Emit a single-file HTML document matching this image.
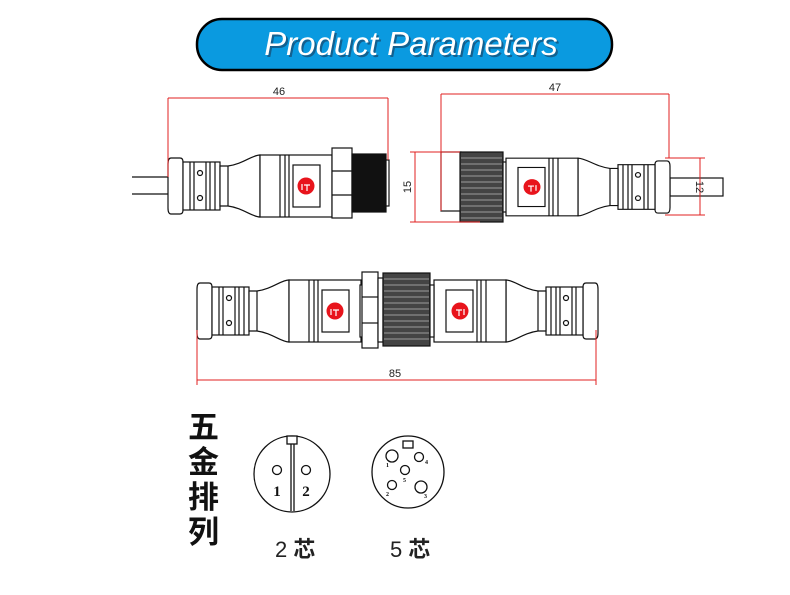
<!DOCTYPE html>
<html><head><meta charset="utf-8"><style>
html,body{margin:0;padding:0;background:#fff;width:790px;height:595px;overflow:hidden}
svg{display:block}
</style></head><body>
<svg width="790" height="595" viewBox="0 0 790 595" xmlns="http://www.w3.org/2000/svg">
<defs>
<g id="plug" stroke="#111" stroke-width="1.2" fill="#fff">
  <path d="M3,-28 L12,-28 Q15,-28 15,-24 L15,24 Q15,28 12,28 L3,28 Q0,28 0,22 L0,-22 Q0,-28 3,-28 Z"/>
  <rect x="15" y="-24" width="37" height="48"/>
  <line x1="22" y1="-24" x2="22" y2="24"/><line x1="26" y1="-24" x2="26" y2="24"/>
  <line x1="38" y1="-24" x2="38" y2="24"/><line x1="42" y1="-24" x2="42" y2="24"/><line x1="47" y1="-24" x2="47" y2="24"/>
  <circle cx="32" cy="-13" r="2.5"/><circle cx="32" cy="12" r="2.5"/>
  <path d="M52,-20 L60,-20 C75,-22 84,-31 92,-31 L92,31 C84,31 75,22 60,20 L52,20 Z"/>
  <line x1="60" y1="-20" x2="60" y2="20"/>
  <rect x="92" y="-31" width="72" height="62"/>
  <line x1="112" y1="-31" x2="112" y2="31"/><line x1="117" y1="-31" x2="117" y2="31"/><line x1="121" y1="-31" x2="121" y2="31"/>
  <rect x="125" y="-21" width="27" height="42"/>
  <circle cx="138" cy="0" r="8.5" fill="#e8141c" stroke="none"/>
  <path d="M134,-2 L134,4 M136,-1 L142,-1 M139,-1 L139,5" stroke="#fff" stroke-width="1.2" fill="none"/>
</g>
</defs>

<rect x="197" y="19" width="415" height="51" rx="25" fill="#0a9ae0" stroke="#000" stroke-width="2.5"/>
<text x="411" y="55" text-anchor="middle" font-family="Liberation Sans, sans-serif" font-style="italic" font-size="33" fill="#1a3a5a" opacity="0.6" transform="translate(2,2)">Product Parameters</text>
<text x="411" y="55" text-anchor="middle" font-family="Liberation Sans, sans-serif" font-style="italic" font-size="33" fill="#fff">Product Parameters</text>

<g stroke="#111" stroke-width="1.2" fill="none">
  <line x1="132" y1="177" x2="168" y2="177"/><line x1="132" y1="194" x2="168" y2="194"/>
</g>
<use href="#plug" transform="translate(168,186)"/>
<g stroke="#111" stroke-width="1.2">
  <rect x="332" y="148" width="20" height="70" fill="#fff"/>
  <line x1="332" y1="171" x2="352" y2="171"/><line x1="332" y1="195" x2="352" y2="195"/>
  <rect x="352" y="154" width="34" height="58" fill="#111"/>
  <rect x="386" y="160" width="3" height="46" fill="#fff"/>
</g>
<g stroke="#e02020" stroke-width="1" fill="none">
  <line x1="168" y1="98" x2="388" y2="98"/>
  <line x1="168" y1="98" x2="168" y2="177"/>
  <line x1="388" y1="98" x2="388" y2="160"/>
</g>
<text x="279" y="95" text-anchor="middle" font-family="Liberation Sans, sans-serif" font-size="11" fill="#222">46</text>

<g stroke="#111" stroke-width="1.2">
  <rect x="441" y="152" width="20" height="59" fill="#fff"/>
  <rect x="460" y="152" width="43" height="70" fill="#444"/>
  <g stroke="#bbb" stroke-width="0.8">
    <line x1="461" y1="158" x2="502" y2="158"/><line x1="461" y1="164" x2="502" y2="164"/><line x1="461" y1="170" x2="502" y2="170"/><line x1="461" y1="176" x2="502" y2="176"/><line x1="461" y1="182" x2="502" y2="182"/><line x1="461" y1="188" x2="502" y2="188"/><line x1="461" y1="194" x2="502" y2="194"/><line x1="461" y1="200" x2="502" y2="200"/><line x1="461" y1="206" x2="502" y2="206"/><line x1="461" y1="212" x2="502" y2="212"/><line x1="461" y1="218" x2="502" y2="218"/>
  </g>
  <rect x="503" y="162" width="5" height="50" fill="#fff"/>
  <rect x="670" y="178" width="53" height="18" fill="#fff"/>
</g>
<use href="#plug" transform="translate(670,187) scale(-1,0.93)"/>
<g stroke="#e02020" stroke-width="1" fill="none">
  <line x1="441" y1="94" x2="669" y2="94"/>
  <line x1="441" y1="94" x2="441" y2="211"/>
  <line x1="669" y1="94" x2="669" y2="158"/>
  <line x1="415" y1="152" x2="415" y2="222"/>
  <line x1="410" y1="152" x2="460" y2="152"/><line x1="410" y1="222" x2="480" y2="222"/>
  <line x1="700" y1="158" x2="700" y2="215"/>
  <line x1="665" y1="158" x2="705" y2="158"/><line x1="665" y1="215" x2="705" y2="215"/>
</g>
<text x="555" y="91" text-anchor="middle" font-family="Liberation Sans, sans-serif" font-size="11" fill="#222">47</text>
<text transform="translate(411,187) rotate(-90)" text-anchor="middle" font-family="Liberation Sans, sans-serif" font-size="11" fill="#222">15</text>
<text transform="translate(696,187) rotate(90)" text-anchor="middle" font-family="Liberation Sans, sans-serif" font-size="11" fill="#222">12</text>

<use href="#plug" transform="translate(197,311)"/>
<use href="#plug" transform="translate(598,311) scale(-1,1)"/>
<g stroke="#111" stroke-width="1.2">
  <rect x="360" y="285" width="3" height="52" fill="#fff"/>
  <rect x="362" y="272" width="16" height="76" fill="#fff"/>
  <line x1="362" y1="297" x2="378" y2="297"/><line x1="362" y1="323" x2="378" y2="323"/>
  <rect x="378" y="278" width="5" height="64" fill="#fff"/>
  <rect x="383" y="273" width="47" height="73" fill="#444"/>
  <g stroke="#bbb" stroke-width="0.8">
    <line x1="384" y1="279" x2="429" y2="279"/><line x1="384" y1="285" x2="429" y2="285"/><line x1="384" y1="291" x2="429" y2="291"/><line x1="384" y1="297" x2="429" y2="297"/><line x1="384" y1="303" x2="429" y2="303"/><line x1="384" y1="309" x2="429" y2="309"/><line x1="384" y1="315" x2="429" y2="315"/><line x1="384" y1="321" x2="429" y2="321"/><line x1="384" y1="327" x2="429" y2="327"/><line x1="384" y1="333" x2="429" y2="333"/><line x1="384" y1="339" x2="429" y2="339"/>
  </g>
  <rect x="430" y="285" width="4" height="52" fill="#fff"/>
</g>
<g stroke="#e02020" stroke-width="1" fill="none">
  <line x1="197" y1="380" x2="596" y2="380"/>
  <line x1="197" y1="330" x2="197" y2="385"/>
  <line x1="596" y1="330" x2="596" y2="385"/>
</g>
<text x="395" y="377" text-anchor="middle" font-family="Liberation Sans, sans-serif" font-size="11" fill="#222">85</text>

<g font-family="Liberation Sans, 'Noto Sans CJK SC', sans-serif" font-size="31" font-weight="bold" fill="#111">
  <text x="188" y="438">五</text>
  <text x="188" y="473">金</text>
  <text x="188" y="508">排</text>
  <text x="188" y="543">列</text>
</g>
<g stroke="#111" stroke-width="1.3" fill="#fff">
  <circle cx="292" cy="474" r="38"/>
  <rect x="287" y="436" width="10" height="8"/>
  <line x1="291" y1="444" x2="291" y2="511"/><line x1="294" y1="444" x2="294" y2="511"/>
  <circle cx="277" cy="470" r="4.5"/><circle cx="306" cy="470" r="4.5"/>
  <circle cx="408" cy="472" r="36"/>
  <rect x="403" y="441" width="10" height="7"/>
  <circle cx="392" cy="456" r="6"/><circle cx="419" cy="457" r="4.5"/>
  <circle cx="405" cy="470" r="4.5"/>
  <circle cx="392" cy="485" r="4.5"/><circle cx="421" cy="487" r="6"/>
</g>
<g font-family="Liberation Serif, serif" font-weight="bold" fill="#111">
  <text x="277" y="496" font-size="15" text-anchor="middle">1</text>
  <text x="306" y="496" font-size="15" text-anchor="middle">2</text>
  <text x="386" y="467" font-size="6">1</text>
  <text x="425" y="464" font-size="6">4</text>
  <text x="403" y="482" font-size="6">5</text>
  <text x="386" y="496" font-size="6">2</text>
  <text x="424" y="498" font-size="6">3</text>
</g>
<g font-family="Liberation Sans, 'Noto Sans CJK SC', sans-serif" font-size="22" fill="#222">
  <text x="275" y="557">2 <tspan font-weight="bold">芯</tspan></text>
  <text x="390" y="557">5 <tspan font-weight="bold">芯</tspan></text>
</g>
</svg>
</body></html>
